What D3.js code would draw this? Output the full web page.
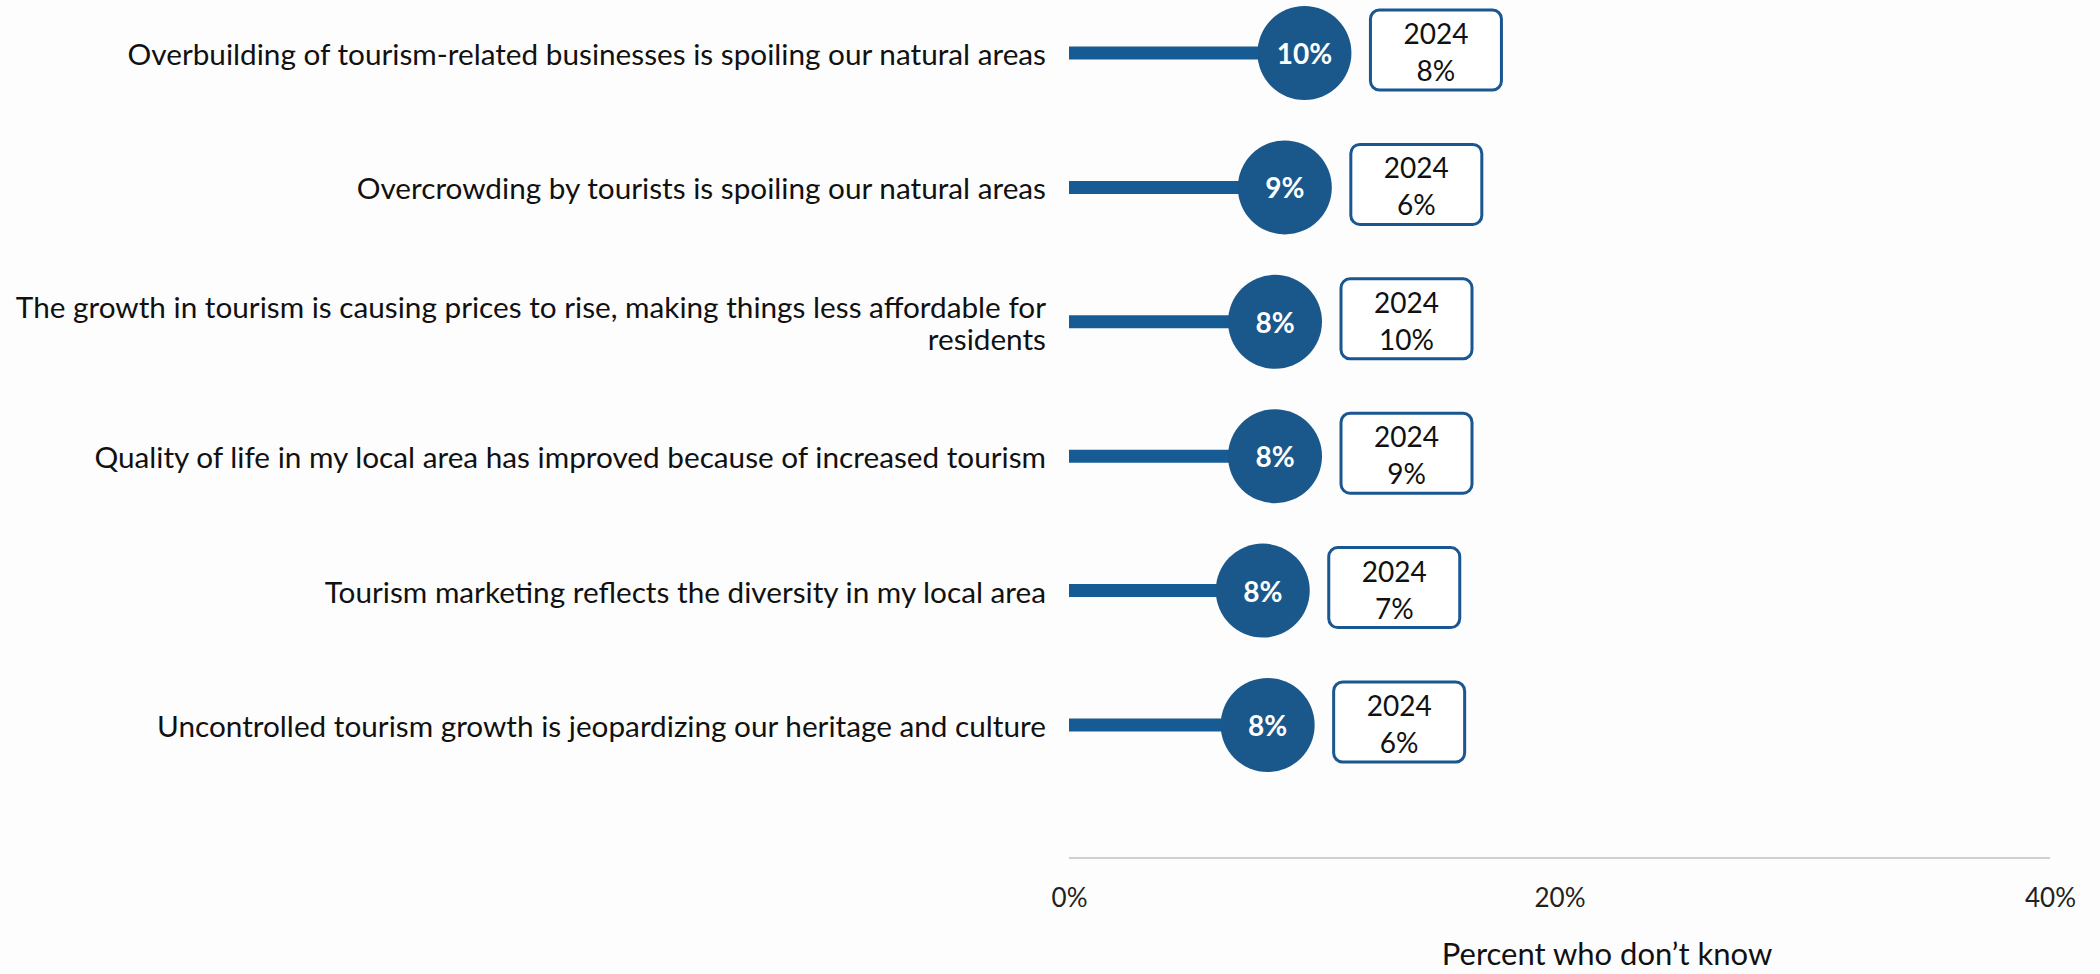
<!DOCTYPE html>
<html>
<head>
<meta charset="utf-8">
<script src="https://cdn.jsdelivr.net/npm/d3@7"></script>
<style>
  html, body { margin: 0; padding: 0; background: #fdfdfd; }
  svg { display: block; }
  text { font-family: "Lato", "Noto Sans", sans-serif; }
</style>
</head>
<body>
<svg id="chart" width="2100" height="974"></svg>
<script>
const categories = [
  "Overbuilding of tourism-related businesses is spoiling our natural areas",
  "Overcrowding by tourists is spoiling our natural areas",
  "The growth in tourism is causing prices to rise, making things less affordable for\nresidents",
  "Quality of life in my local area has improved because of increased tourism",
  "Tourism marketing reflects the diversity in my local area",
  "Uncontrolled tourism growth is jeopardizing our heritage and culture"
];
const values2025 = [9.6, 8.8, 8.4, 8.4, 7.9, 8.1];
const values2024 = [8, 6, 10, 9, 7, 6];
const compareYear = "2024";
const xTicks = [0, 20, 40];
const axisTitle = "Percent who don\u2019t know";

const svg = d3.select("#chart");
const W = 2100, H = 974;
svg.append("rect").attr("width", W).attr("height", H).attr("fill", "#fdfdfd");

const x = d3.scaleLinear().domain([0, 40]).range([1069, 2050]);
const y = d3.scalePoint().domain(categories).range([53, 725]);

const lineColor = "#175b94";
const circleColor = "#1a578b";
const r = 47;

// axis
const axisY = 858;
svg.append("line")
  .attr("x1", x(0)).attr("x2", x(40))
  .attr("y1", axisY).attr("y2", axisY)
  .attr("stroke", "#d0d0d0").attr("stroke-width", 2);

const ax = d3.axisBottom(x).tickValues(xTicks).tickFormat(d => d + "%").tickSize(0).tickPadding(0);
const axG = svg.append("g").attr("transform", `translate(0,${axisY})`).call(ax);
axG.select(".domain").remove();
axG.selectAll("text")
  .attr("y", 49).attr("dy", 0)
  .attr("font-size", 26).attr("fill", "#222")
  .style("font-family", "Lato, 'Noto Sans', sans-serif");

svg.append("text")
  .attr("x", 1607).attr("y", 965)
  .attr("text-anchor", "middle")
  .attr("font-size", 31).attr("fill", "#111")
  .text(axisTitle);

// category labels (fit to reference width)
const labelG = svg.append("g");
const lineH = 32;
categories.forEach((c, i) => {
  const lines = c.split("\n");
  const t = labelG.append("text")
    .attr("class", "cat")
    .attr("x", 1046)
    .attr("y", y(c) - (lines.length - 1) * lineH / 2)
    .attr("text-anchor", "end")
    .attr("dominant-baseline", "central")
    .attr("font-size", 25)
    .attr("fill", "#111");
  lines.forEach((l, j) => {
    t.append("tspan").attr("x", 1046).attr("dy", j === 0 ? 0 : lineH).text(l);
  });
});
{
  const first = labelG.select("text.cat tspan").node();
  const w = first.getComputedTextLength();
  const fs = 25 * 919 / w;
  labelG.selectAll("text.cat").attr("font-size", fs);
}

// lollipop lines
svg.append("g").selectAll("line")
  .data(categories)
  .join("line")
  .attr("x1", x(0))
  .attr("x2", (d, i) => x(values2025[i]))
  .attr("y1", d => y(d)).attr("y2", d => y(d))
  .attr("stroke", lineColor).attr("stroke-width", 13);

// circles
svg.append("g").selectAll("circle")
  .data(categories)
  .join("circle")
  .attr("cx", (d, i) => x(values2025[i]))
  .attr("cy", d => y(d))
  .attr("r", r)
  .attr("fill", circleColor);

svg.append("g").selectAll("text")
  .data(categories)
  .join("text")
  .attr("x", (d, i) => x(values2025[i]))
  .attr("y", d => y(d))
  .attr("text-anchor", "middle")
  .attr("dominant-baseline", "central")
  .attr("font-size", 28).attr("font-weight", "bold")
  .attr("fill", "#ffffff")
  .text((d, i) => Math.round(values2025[i]) + "%");

// comparison boxes
const bw = 131, bh = 80;
const boxes = svg.append("g").selectAll("g")
  .data(categories)
  .join("g")
  .attr("transform", (d, i) => `translate(${x(values2025[i]) + r + 19},${y(d) - 3 - bh / 2})`);
boxes.append("rect")
  .attr("x", 0).attr("y", 0).attr("width", bw).attr("height", bh)
  .attr("rx", 9).attr("ry", 9)
  .attr("fill", "#ffffff").attr("stroke", "#1a5690").attr("stroke-width", 3);
boxes.append("text")
  .attr("x", bw / 2).attr("y", 23)
  .attr("text-anchor", "middle").attr("dominant-baseline", "central")
  .attr("font-size", 28).attr("fill", "#111")
  .text(compareYear);
boxes.append("text")
  .attr("x", bw / 2).attr("y", 60)
  .attr("text-anchor", "middle").attr("dominant-baseline", "central")
  .attr("font-size", 28).attr("fill", "#111")
  .text((d, i) => values2024[i] + "%");
</script>
</body>
</html>
